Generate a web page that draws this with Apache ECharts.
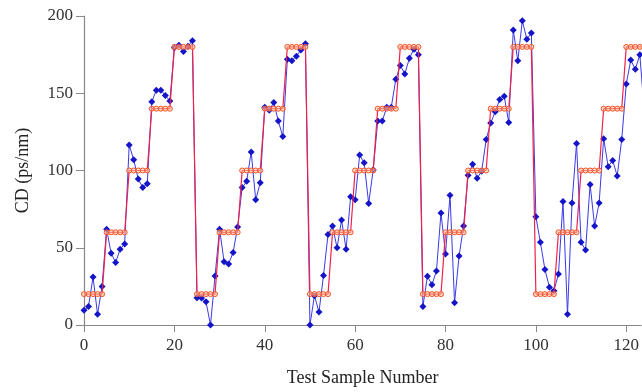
<!DOCTYPE html>
<html>
<head>
<meta charset="utf-8">
<script src="https://cdn.jsdelivr.net/npm/echarts@6/dist/echarts.min.js"></script>
<style>html,body{margin:0;padding:0;background:#fff}#c{width:642px;height:392px}</style>
</head>
<body>
<div id="c"></div>
<script>
// Test sample numbers 0..124
var sampleNumbers = [];
for (var n = 0; n < 125; n++) sampleNumbers.push(n);

// Actual CD levels (ps/nm), 5 samples per level, 25 per cycle
var actualCD = [
  20,20,20,20,20, 60,60,60,60,60, 100,100,100,100,100, 140,140,140,140,140, 180,180,180,180,180,
  20,20,20,20,20, 60,60,60,60,60, 100,100,100,100,100, 140,140,140,140,140, 180,180,180,180,180,
  20,20,20,20,20, 60,60,60,60,60, 100,100,100,100,100, 140,140,140,140,140, 180,180,180,180,180,
  20,20,20,20,20, 60,60,60,60,60, 100,100,100,100,100, 140,140,140,140,140, 180,180,180,180,180,
  20,20,20,20,20, 60,60,60,60,60, 100,100,100,100,100, 140,140,140,140,140, 180,180,180,180,180
];

// Estimated CD (ps/nm)
var estimatedCD = [
  9.5,12,31,7,25, 62,46.5,40.5,49,52.5, 116.5,107,94.5,89,91.5, 144.5,152,152,148.5,145, 179.5,181,177,180.5,184,
  17.7,17.5,15,0,31.7, 62,41,39.5,47,63.5, 89,93,112,81,92, 141,139,144,132,122, 172,171,174,178,182,
  0,19,8.4,32,58.5, 64,50,68,49,83, 81,110,105,78.6,100.5, 132,132,141,141,159, 168,162.5,172.6,178.5,175,
  12,31.6,26,35,72.5, 46,84,14.4,44.6,64, 97,104,95,99.5,120, 130.7,138,146,148,131, 191,171,197,185,189,
  70,53.5,36,24.5,22.2, 33,80,7,79,117.5, 53.5,48.5,91,64,79, 120.5,102.5,106.5,96.5,120, 156,171.5,165.5,175,138
];

var xTicks = [0, 20, 40, 60, 80, 100, 120];
var yTicks = [0, 50, 100, 150, 200];
var xMax = 123.3; // visible part of the axis (the picture is cut on the right)

function pairs(xs, ys) { return xs.map(function (x, i) { return [x, ys[i]]; }); }

var chart = echarts.init(document.getElementById('c'), null, {renderer: 'canvas'});
var serif = '"Liberation Serif", "DejaVu Serif", serif';
chart.setOption({
  animation: false,
  backgroundColor: '#ffffff',
  grid: {left: 84, top: 16, right: 0, height: 309},
  xAxis: {
    type: 'value', min: 0, max: xMax, interval: 20,
    name: 'Test Sample Number', nameLocation: 'middle', nameGap: 44,
    nameTextStyle: {fontFamily: serif, fontSize: 18, color: '#222'},
    axisLine: {show: true, lineStyle: {color: '#888', width: 1.2}},
    axisTick: {show: true, length: 7, lineStyle: {color: '#888'},
      interval: function (i, v) { return xTicks.indexOf(Number(v)) >= 0; }},
    axisLabel: {fontFamily: serif, fontSize: 17, color: '#333', margin: 12,
      showMaxLabel: false,
      formatter: function (v) { return xTicks.indexOf(v) >= 0 ? String(v) : ''; }},
    splitLine: {show: false}
  },
  yAxis: {
    type: 'value', min: 0, max: 200, interval: 50,
    name: 'CD (ps/nm)', nameLocation: 'middle', nameGap: 52, nameRotate: 90,
    nameTextStyle: {fontFamily: serif, fontSize: 18, color: '#222'},
    axisLine: {show: true, lineStyle: {color: '#888', width: 1.2}},
    axisTick: {show: true, length: 8, lineStyle: {color: '#888'}},
    axisLabel: {fontFamily: serif, fontSize: 17, color: '#333', margin: 11,
      formatter: function (v) { return yTicks.indexOf(v) >= 0 ? String(v) : ''; }},
    splitLine: {show: false}
  },
  series: [
    {
      name: 'Estimated', type: 'line', data: pairs(sampleNumbers, estimatedCD),
      symbol: 'diamond', symbolSize: 7, showAllSymbol: true, clip: true,
      lineStyle: {color: '#3a3ae6', width: 1},
      itemStyle: {color: '#1414c8'}, z: 2
    },
    {
      name: 'Actual', type: 'line', data: pairs(sampleNumbers, actualCD),
      symbol: 'circle', symbolSize: 5, showAllSymbol: true, clip: true,
      lineStyle: {color: '#f0204a', width: 1.2},
      itemStyle: {color: 'rgba(255,200,150,0.55)', borderColor: '#f5502a', borderWidth: 1}, z: 3
    }
  ]
});
</script>
</body>
</html>
